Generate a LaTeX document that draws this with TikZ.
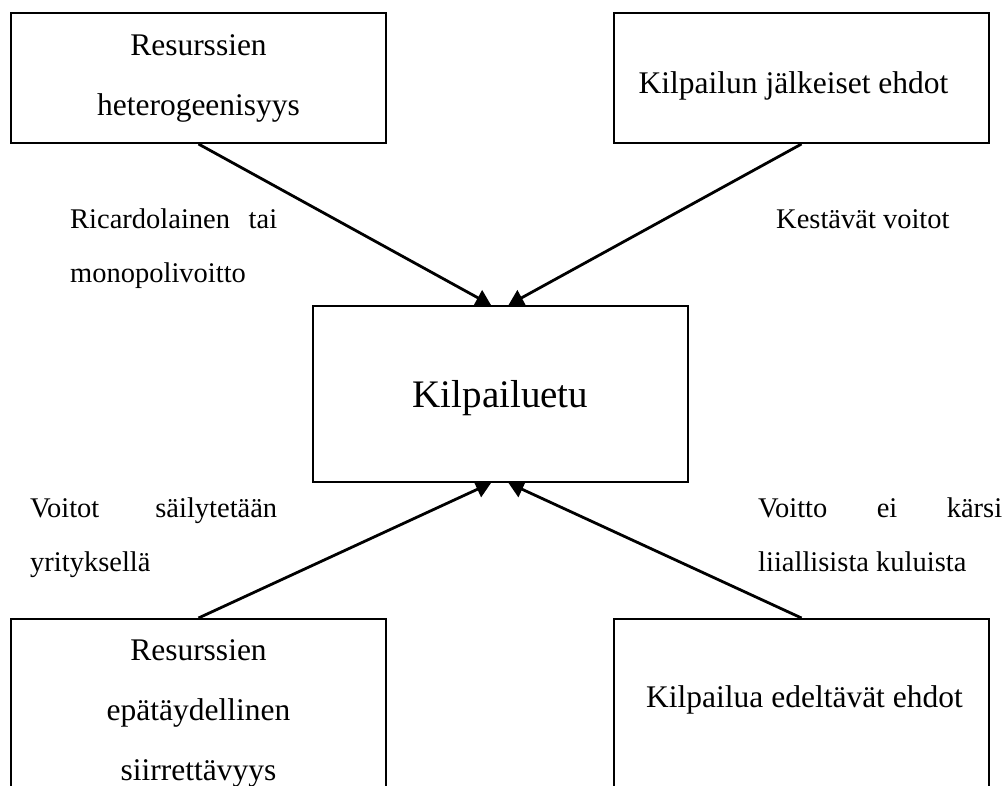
\documentclass[tikz,border=0pt]{standalone}
\usepackage{fontspec}
\setmainfont{Liberation Serif}
\usetikzlibrary{arrows.meta,calc}

\begin{document}
\begin{tikzpicture}[x=1pt,y=-1pt,
  box/.style={draw,line width=2pt,rectangle,anchor=north west,
    minimum width=375pt,inner sep=0pt,align=center,
    font=\fontsize{31.5}{60}\selectfont},
  link/.style={line width=2.8pt,-{Triangle[length=15pt,width=17pt]}},
  lbl/.style={anchor=base west,inner sep=0pt,
    font=\fontsize{28.5}{54}\selectfont}]
\useasboundingbox (0,0) rectangle (1008,785);
\clip (0,0) rectangle (1008,785);

% boxes
\node[box,minimum height=130pt] (res) at (10,12)
  {Resurssien\\heterogeenisyys};
\node[box,minimum height=130pt,text height=38pt,text depth=8pt] (post) at (613,12)
  {Kilpailun jälkeiset ehdot\hspace*{16pt}};
\node[box,minimum height=176pt,font=\fontsize{39}{44}\selectfont,
      text height=36pt,text depth=10pt] (adv) at (312,305)
  {Kilpailuetu};
\node[box,minimum height=188pt] (imm) at (10,618)
  {Resurssien\\epätäydellinen\\siirrettävyys};
\node[box,minimum height=188pt,text height=21pt,text depth=33pt] (pre) at (613,618)
  {\hspace*{6pt}Kilpailua edeltävät ehdot};

% connectors
\draw[link] (res.south) -- ($(adv.north)+(-9.5,0)$);
\draw[link] (post.south) -- ($(adv.north)+(8,0)$);
\draw[link] (imm.north) -- ($(adv.south)+(-9.5,0)$);
\draw[link] (pre.north) -- ($(adv.south)+(8,0)$);

% labels
\node[lbl] (l1a) at (70,228) {\makebox[207pt][l]{Ricardolainen\hfill tai}};
\node[lbl] (l1b) at (70,282) {monopolivoitto};
\node[lbl] (l2a) at (776,228) {Kestävät voitot};
\node[lbl] (l3a) at (30,517) {\makebox[247pt][l]{Voitot\hfill säilytetään}};
\node[lbl] (l3b) at (30,571) {yrityksellä};
\node[lbl] (l4a) at (758,517) {\makebox[244pt][l]{Voitto\hfill ei\hfill kärsi}};
\node[lbl] (l4b) at (758,571) {liiallisista kuluista};
\end{tikzpicture}
\end{document}
